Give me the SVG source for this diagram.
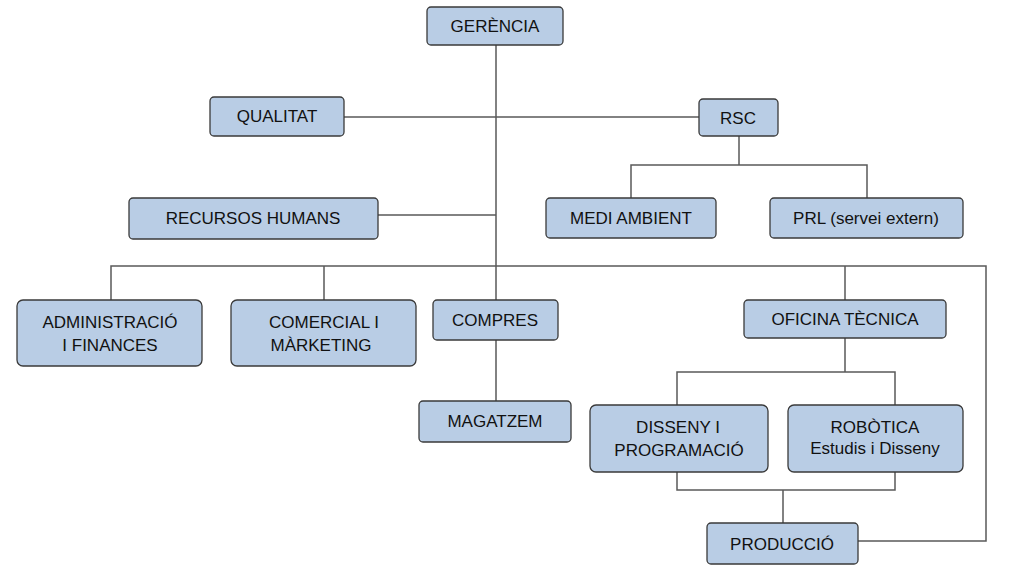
<svg xmlns="http://www.w3.org/2000/svg" width="1024" height="581" viewBox="0 0 1024 581">
<style>
.n{fill:#b9cde5;stroke:#3a3a3a;stroke-width:1.3}
.c{fill:none;stroke:#5a5a5a;stroke-width:1.5}
text{font-family:"Liberation Sans",Arial,sans-serif;font-size:17px;fill:#111;text-anchor:middle}
</style>
<rect width="1024" height="581" fill="#fff"/>
<g id="connectors" class="c">
<path d="M496 45V266M344 117H699M378 215H496M739 136V165M631 198V165H867V198M111 300V266H986V541H858M324 266V300M496 266V300M845 266V300M496 340V401M845 338V372M677 405V372H895V405M677 472V490H895V472M783 490V523"/>
</g>
<g id="gerencia"><rect class="n" x="427" y="7" width="136" height="38" rx="4"/><text x="495" y="32">GERÈNCIA</text></g>
<g id="qualitat"><rect class="n" x="210" y="97" width="134" height="39" rx="4"/><text x="277" y="122">QUALITAT</text></g>
<g id="rsc"><rect class="n" x="699" y="99" width="79" height="37" rx="4"/><text x="738" y="124">RSC</text></g>
<g id="rrhh"><rect class="n" x="129" y="198" width="249" height="41" rx="4"/><text x="253" y="224">RECURSOS HUMANS</text></g>
<g id="medi"><rect class="n" x="546" y="198" width="170" height="40" rx="4"/><text x="631" y="224">MEDI AMBIENT</text></g>
<g id="prl"><rect class="n" x="770" y="198" width="193" height="40" rx="4"/><text x="866" y="224">PRL (servei extern)</text></g>
<g id="admin"><rect class="n" x="17" y="300" width="185" height="66" rx="6"/><text x="110" y="328">ADMINISTRACIÓ</text><text x="110" y="351">I FINANCES</text></g>
<g id="comercial"><rect class="n" x="231" y="300" width="185" height="66" rx="6"/><text x="324" y="328">COMERCIAL I</text><text x="321" y="351">MÀRKETING</text></g>
<g id="compres"><rect class="n" x="433" y="300" width="125" height="40" rx="4"/><text x="495" y="326">COMPRES</text></g>
<g id="magatzem"><rect class="n" x="419" y="401" width="152" height="41" rx="4"/><text x="495" y="427">MAGATZEM</text></g>
<g id="oficina"><rect class="n" x="744" y="300" width="202" height="38" rx="4"/><text x="845" y="325">OFICINA TÈCNICA</text></g>
<g id="disseny"><rect class="n" x="590" y="405" width="178" height="67" rx="6"/><text x="678" y="433">DISSENY I</text><text x="679" y="456">PROGRAMACIÓ</text></g>
<g id="robotica"><rect class="n" x="788" y="405" width="175" height="67" rx="6"/><text x="875" y="433">ROBÒTICA</text><text x="875" y="454">Estudis i Disseny</text></g>
<g id="produccio"><rect class="n" x="707" y="523" width="151" height="41" rx="4"/><text x="782" y="550">PRODUCCIÓ</text></g>
</svg>
